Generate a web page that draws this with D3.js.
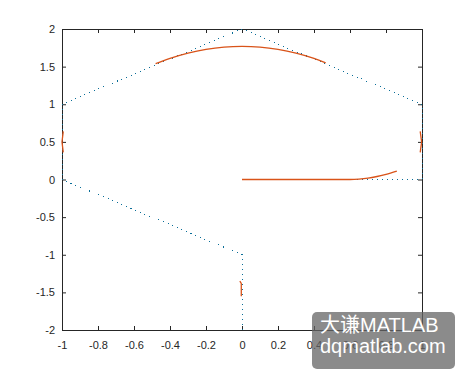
<!DOCTYPE html>
<html><head><meta charset="utf-8">
<script src="https://cdn.jsdelivr.net/npm/d3@7"></script>
<style>body{margin:0;background:#fff}svg{display:block}</style>
</head><body>
<script>
// ---- data ----
const xTicks = [-1, -0.8, -0.6, -0.4, -0.2, 0, 0.2, 0.4, 0.6, 0.8, 1];
const yTicks = [-2, -1.5, -1, -0.5, 0, 0.5, 1, 1.5, 2];
const pathX = [0, 0, -1, -1, 0, 1, 1, 0];
const pathY = [-2, -1, 0, 1, 2, 1, 0, 0];
const arcX = [-0.48, -0.4, -0.3, -0.2, -0.1, 0, 0.1, 0.2, 0.3, 0.4, 0.465];
const arcY = [1.54, 1.61, 1.68, 1.73, 1.76, 1.77, 1.76, 1.73, 1.68, 1.61, 1.55];
const rayX = [0, 0.3, 0.6, 0.65, 0.7, 0.75, 0.8, 0.86];
const rayY = [0, 0, 0, 0.005, 0.018, 0.04, 0.068, 0.113];
const leftX = [-0.993, -1, -0.993];
const leftY = [0.64, 0.5, 0.36];
const rightX = [0.99, 0.998, 0.99];
const rightY = [0.64, 0.5, 0.36];
const stemX = [-0.012, -0.004, -0.004];
const stemY = [-1.35, -1.38, -1.55];
const wmLines = ["大谦MATLAB", "dqmatlab.com"];

// ---- layout ----
const W = 465, H = 371;
const L = 62, R = 422, T = 29, B = 330;
const svg = d3.select("body").append("svg").attr("width", W).attr("height", H);
const x = d3.scaleLinear().domain([-1, 1]).range([L, R]);
const y = d3.scaleLinear().domain([-2, 2]).range([B, T]);
const zip = (xs, ys) => xs.map((v, i) => [v, ys[i]]);
const line = d3.line().x(d => x(d[0])).y(d => y(d[1]));
const curve = d3.line().x(d => x(d[0])).y(d => y(d[1])).curve(d3.curveMonotoneX);
const curveN = d3.line().x(d => x(d[0])).y(d => y(d[1])).curve(d3.curveNatural);

const fmt = d => String(d);
const font = "Liberation Sans, Arial, sans-serif";
const axColor = "#262626";

function style(g) {
  g.select(".domain").remove();
  g.selectAll(".tick line").attr("stroke", axColor);
  g.selectAll(".tick text").attr("fill", axColor).style("font-family", font).style("font-size", "11px");
}

svg.append("g").attr("transform", `translate(0,${B})`)
  .call(d3.axisBottom(x).tickValues(xTicks).tickFormat(fmt).tickSizeInner(-4).tickSizeOuter(0).tickPadding(11)).call(style);
svg.append("g").attr("transform", `translate(0,${T})`)
  .call(d3.axisTop(x).tickValues(xTicks).tickFormat("").tickSizeInner(-4).tickSizeOuter(0)).call(style);
svg.append("g").attr("transform", `translate(${L},0)`)
  .call(d3.axisLeft(y).tickValues(yTicks).tickFormat(fmt).tickSizeInner(-4).tickSizeOuter(0).tickPadding(7)).call(style);
svg.append("g").attr("transform", `translate(${R},0)`)
  .call(d3.axisRight(y).tickValues(yTicks).tickFormat("").tickSizeInner(-4).tickSizeOuter(0)).call(style);

svg.append("rect").attr("x", L).attr("y", T).attr("width", R - L).attr("height", B - T)
  .attr("fill", "none").attr("stroke", axColor).attr("stroke-width", 1).attr("shape-rendering", "crispEdges");

// dotted blue path
svg.append("path").datum(zip(pathX, pathY)).attr("d", line)
  .attr("fill", "none").attr("stroke", "#0a6e98").attr("stroke-width", 1).attr("stroke-dasharray", "1,4")
  .attr("shape-rendering", "crispEdges");

// orange curves
const orange = "#D95319";
[[arcX, arcY, curveN], [rayX, rayY, curve], [leftX, leftY, line], [rightX, rightY, line], [stemX, stemY, line]]
  .forEach(([xs, ys, gen]) => {
    svg.append("path").datum(zip(xs, ys)).attr("d", gen)
      .attr("fill", "none").attr("stroke", orange).attr("stroke-width", 1.3);
  });

// watermark
svg.append("rect").attr("x", 312).attr("y", 312).attr("width", 143).attr("height", 57).attr("rx", 5)
  .attr("fill", "rgba(100,100,100,0.75)");
svg.selectAll("text.wm").data(wmLines).enter().append("text").attr("class", "wm")
  .attr("x", 320).attr("y", (d, i) => 332 + i * 21)
  .attr("fill", "#fff").style("font-family", "Liberation Sans, Noto Sans CJK SC, sans-serif").style("font-size", "20px")
  .text(d => d);
</script>
</body></html>
